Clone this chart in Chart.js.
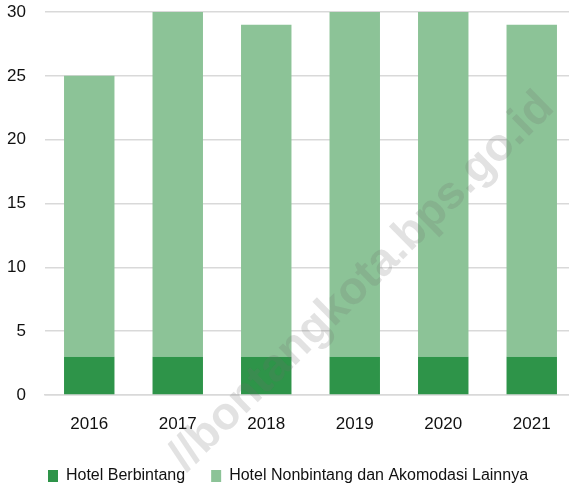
<!DOCTYPE html>
<html>
<head>
<meta charset="utf-8">
<script src="https://cdn.jsdelivr.net/npm/chart.js@4"></script>
<style>
  html, body { margin: 0; padding: 0; background: #fff; overflow: hidden; }
  #wrap { width: 576px; height: 491px; }
</style>
</head>
<body>
<div id="wrap"><canvas id="myChart"></canvas></div>
<script>
const years = ["2016", "2017", "2018", "2019", "2020", "2021"];
const berbintang = [3, 3, 3, 3, 3, 3];
const nonbintang = [22, 27, 26, 27, 27, 26];
const seriesNames = ["Hotel Berbintang", "Hotel Nonbintang dan Akomodasi Lainnya"];
const watermark = "//bontangkota.bps.go.id";

const fontName = "'Liberation Sans', Arial, sans-serif";

// faint diagonal watermark on top of the bars
const watermarkPlugin = {
    id: "watermark",
    afterDraw(chart) {
        const c = chart.ctx;
        c.save();
        c.translate(362, 282);
        c.rotate(-44.5 * Math.PI / 180);
        c.font = "bold 46px 'Liberation Sans', sans-serif";
        c.fillStyle = "rgba(110, 110, 110, 0.2)";
        c.textAlign = "center";
        c.textBaseline = "middle";
        c.fillText(watermark, 0, 0);
        c.restore();
    }
};

const chart = document.getElementById('myChart').getContext('2d');

let myChart = new Chart(chart, {
    type: "bar",
    data: {
        labels: years,
        datasets: [
            {
                label: seriesNames[0],
                data: berbintang,
                backgroundColor: "#2e9449",
            },
            {
                label: seriesNames[1],
                data: nonbintang,
                backgroundColor: "#8cc397",
            }
        ],
    },
    options: {
        responsive: true,
        maintainAspectRatio: false,
        animation: false,
        barPercentage: 0.57,
        categoryPercentage: 1,
        layout: {
            padding: { top: 12, bottom: -3, left: 0, right: 0 }
        },
        scales: {
            x: {
                stacked: true,
                afterFit: s => { s.height = 47; },
                grid: { display: false, drawTicks: false },
                border: { color: "#d9d9d9", width: 1.5 },
                ticks: { color: "#111", font: { family: fontName, size: 17 }, padding: 19 },
            },
            y: {
                stacked: true,
                min: 0,
                max: 30,
                afterFit: s => {
                    s.width = 45;
                    s.paddingTop = 0;
                    s.paddingBottom = 0;
                },
                grid: { color: "#d9d9d9", lineWidth: 1.5, drawTicks: false },
                border: { display: false },
                ticks: { stepSize: 5, color: "#111", font: { family: fontName, size: 17 }, padding: 19 },
            }
        },
        plugins: {
            legend: {
                position: "bottom",
                labels: {
                    color: "#111",
                    font: { family: fontName, size: 16 },
                    boxWidth: 10,
                    boxHeight: 12,
                    padding: 26,
                }
            },
            tooltip: { enabled: false },
        }
    },
    plugins: [watermarkPlugin],
});
</script>
</body>
</html>
